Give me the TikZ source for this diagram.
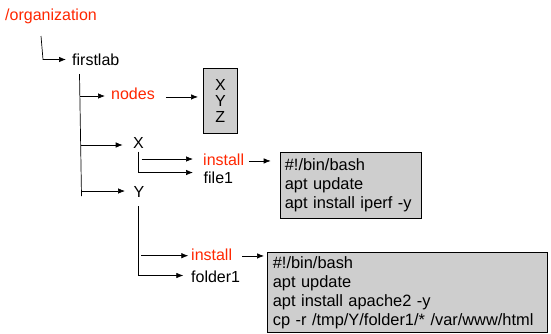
\documentclass[tikz,border=0pt]{standalone}
\usepackage{fontspec}
\setmainfont{Liberation Sans}
\usetikzlibrary{arrows.meta,positioning}
\definecolor{dirred}{RGB}{255,38,0}
\definecolor{filegray}{RGB}{206,206,206}

\begin{document}
\begin{tikzpicture}[x=1pt, y=-1pt,
  every node/.style={font=\fontsize{16}{19}\selectfont},
  entry/.style={inner sep=0pt, anchor=base west, text height=11.5pt, text depth=3.4pt},
  redentry/.style={entry, text=dirred},
  filebox/.style={draw, line width=0.7pt, fill=filegray, anchor=north west, align=left, inner ysep=0pt, font=\fontsize{16.4}{19}\selectfont},
  link/.style={-{Latex[length=7pt,width=5.5pt]}, line width=0.7pt},
  trunk/.style={line width=0.7pt}]
\useasboundingbox (0,0) rectangle (551,333);

\node[redentry] (org) at (5,20.5) {/organization};
\node[entry] (firstlab) at (72,65.5) {firstlab};
\node[redentry] (nodes) at (111,99.5) {nodes};
\node[entry] (x) at (133,148.5) {X};
\node[entry] (y) at (133.5,197) {Y};
\node[redentry] (installx) at (203,165) {install};
\node[entry] (file) at (203.5,183.5) {file1};
\node[redentry] (instally) at (191,260) {install};
\node[entry] (folder) at (191,282) {folder1};

\node[filebox, align=center, minimum width=34pt, minimum height=65pt, inner xsep=0pt, font=\fontsize{16}{16}\selectfont] (nodelist) at (203,68) {X\\Y\\Z};
\node[filebox, text width=132pt, inner xsep=4.5pt, minimum height=66pt] (bashx) at (280,152) {\#!/bin/bash\\apt update\\apt install iperf -y};
\node[filebox, text width=269pt, inner xsep=5.5pt, minimum height=79.5pt] (bashy) at (267,252.3) {\#!/bin/bash\\apt update\\apt install apache2 -y\\cp -r /tmp/Y/folder1/* /var/www/html};

\coordinate (orgdown) at (41,36);
\coordinate (orgbend) at (43,59.5);
\draw[link, shorten >=6pt] (orgdown) -- (orgbend) -- (orgbend -| firstlab.west);

\coordinate (labtop) at (79.5,74);
\coordinate (labend) at (81.5,196);
\draw[trunk] (labtop) -- (labend);
\coordinate (tonodes) at (80.3,96);
\coordinate (tox) at (80.9,145);
\coordinate (toy) at (81.3,191);
\draw[link, shorten >=6pt] (tonodes) -- (tonodes -| nodes.west);
\draw[link, shorten >=10.3pt] (tox) -- (tox -| x.west);
\draw[link, shorten >=8.5pt] (toy) -- (toy -| y.west);
\draw[link, shorten <=11pt, shorten >=5pt] ([yshift=-1.5pt]nodes.east) -- ([yshift=-1.5pt]nodes.east -| nodelist.west);

\coordinate (xtop) at (138.3,151.7);
\coordinate (xend) at (138.3,172.5);
\draw[trunk] (xtop) -- (xend);
\coordinate (toinstx) at (141.5,159);
\draw[link, shorten >=10pt] (toinstx) -- (toinstx -| installx.west);
\draw[link, shorten >=10.5pt] (xend) -- (xend -| file.west);
\draw[link, shorten <=5pt, shorten >=9.3pt] (installx.east) -- (installx.east -| bashx.west);

\coordinate (ytop) at (138.3,206);
\coordinate (yend) at (138.3,275.5);
\draw[trunk] (ytop) -- (yend);
\coordinate (toinsty) at (141,255.7);
\draw[link, shorten >=2.7pt] (toinsty) -- (toinsty -| instally.west);
\draw[link, shorten >=7.7pt] (yend) -- (yend -| folder.west);
\draw[link, shorten <=10pt, shorten >=3pt] (instally.east) -- (instally.east -| bashy.west);
\end{tikzpicture}
\end{document}
